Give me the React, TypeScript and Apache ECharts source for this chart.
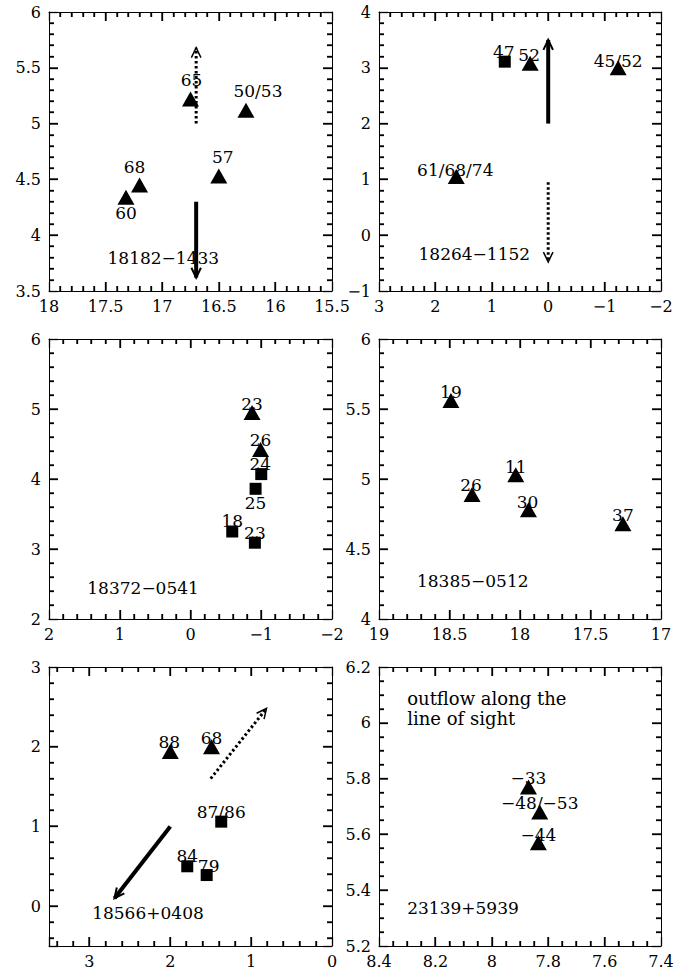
import React, { useEffect, useRef } from "react";
import * as echarts from "echarts";

// ---------------- Panel 1: 18182-1433 ----------------
const p1Name = "18182\u22121433";
const p1NamePos = [16.99, 3.8];
const p1XAxis = [15.5, 18, 0.5];
const p1YAxis = [3.5, 6, 0.5];
const p1Triangles = [[17.32, 4.34], [17.2, 4.45], [16.75, 5.22], [16.26, 5.12], [16.5, 4.53]];
const p1TriangleLabels = ["60", "68", "65", "50/53", "57"];
const p1Squares: number[][] = [];
const p1SquareLabels: string[] = [];
const p1SolidArrows = [[16.7, 4.3, 16.7, 3.62]];
const p1DottedArrows = [[16.7, 5.0, 16.7, 5.68]];

// ---------------- Panel 2: 18264-1152 ----------------
const p2Name = "18264\u22121152";
const p2NamePos = [1.31, -0.33];
const p2XAxis = [-2, 3, 1];
const p2YAxis = [-1, 4, 1];
const p2Triangles = [[0.32, 3.08], [-1.24, 3.0], [1.63, 1.05]];
const p2TriangleLabels = ["52", "45/52", "61/68/74"];
const p2Squares = [[0.77, 3.11]];
const p2SquareLabels = ["47"];
const p2SolidArrows = [[0, 2.0, 0, 3.5]];
const p2DottedArrows = [[0, 0.95, 0, -0.48]];

// ---------------- Panel 3: 18372-0541 ----------------
const p3Name = "18372\u22120541";
const p3NamePos = [0.67, 2.44];
const p3XAxis = [-2, 2, 1];
const p3YAxis = [2, 6, 1];
const p3Triangles = [[-0.87, 4.95], [-0.99, 4.42]];
const p3TriangleLabels = ["23", "26"];
const p3Squares = [[-1.0, 4.07], [-0.92, 3.86], [-0.59, 3.25], [-0.91, 3.09]];
const p3SquareLabels = ["24", "25", "18", "23"];
const p3SolidArrows: number[][] = [];
const p3DottedArrows: number[][] = [];

// ---------------- Panel 4: 18385-0512 ----------------
const p4Name = "18385\u22120512";
const p4NamePos = [18.335, 4.27];
const p4XAxis = [17, 19, 0.5];
const p4YAxis = [4, 6, 0.5];
const p4Triangles = [[18.49, 5.56], [18.34, 4.89], [18.03, 5.03], [17.94, 4.78], [17.27, 4.68]];
const p4TriangleLabels = ["19", "26", "11", "30", "37"];
const p4Squares: number[][] = [];
const p4SquareLabels: string[] = [];
const p4SolidArrows: number[][] = [];
const p4DottedArrows: number[][] = [];

// ---------------- Panel 5: 18566+0408 ----------------
const p5Name = "18566+0408";
const p5NamePos = [2.276, -0.084];
const p5XAxis = [0, 3.5, 1];
const p5YAxis = [-0.5, 3, 1];
const p5Triangles = [[2.0, 1.94], [1.49, 2.0]];
const p5TriangleLabels = ["88", "68"];
const p5Squares = [[1.37, 1.06], [1.79, 0.5], [1.55, 0.39]];
const p5SquareLabels = ["87/86", "84", "79"];
const p5SolidArrows = [[2.0, 1.0, 2.69, 0.1]];
const p5DottedArrows = [[1.5, 1.6, 0.81, 2.48]];

// ---------------- Panel 6: 23139+5939 ----------------
const p6Name = "23139+5939";
const p6NamePos = [8.3, 5.337];
const p6Note = "outflow along the\nline of sight";
const p6NotePos = [8.3, 6.051];
const p6XAxis = [7.4, 8.4, 0.2];
const p6YAxis = [5.2, 6.2, 0.2];
const p6Triangles = [[7.87, 5.77], [7.83, 5.68], [7.835, 5.57]];
const p6TriangleLabels = ["\u221233", "\u221248/\u221253", "\u221244"];
const p6Squares: number[][] = [];
const p6SquareLabels: string[] = [];
const p6SolidArrows: number[][] = [];
const p6DottedArrows: number[][] = [];

// ---------------- layout & styling (not data) ----------------
const GRIDS = [
  { left: 49, top: 12, width: 283, height: 279 },
  { left: 379, top: 12, width: 282, height: 279 },
  { left: 49, top: 339, width: 283, height: 280 },
  { left: 379, top: 339, width: 282, height: 280 },
  { left: 49, top: 667, width: 283, height: 279 },
  { left: 379, top: 667, width: 282, height: 279 },
];
const MINOR_SPLITS = [[5, 5], [5, 5], [5, 5], [5, 5], [5, 5], [4, 4]];
const TRI_OFFSETS = [
  [[0, 16], [-5, -18], [1, -19], [12, -19], [4, -19]],
  [[-1, -8], [0, -7], [-1, -7]],
  [[0, -9], [0, -10]],
  [[0, -9], [-1, -9], [0, -8], [-1, -8], [0, -9]],
  [[-1, -9], [0, -9]],
  [[0, -9], [0, -9], [0, -8]],
];
const SQ_OFFSETS = [
  [],
  [[-1, -10]],
  [[-1, -10], [0, 14], [0, -11], [0, -10]],
  [],
  [[0, -10], [0, -10], [2, -9]],
  [],
];
const MAJOR_LEN = 9;
const MINOR_LEN = 5;
const TICK_W = 1.3;

const FONT = '"DejaVu Serif", serif';

const PANELS = [
  { name: p1Name, namePos: p1NamePos, x: p1XAxis, y: p1YAxis, tri: p1Triangles, triL: p1TriangleLabels, sq: p1Squares, sqL: p1SquareLabels, solid: p1SolidArrows, dotted: p1DottedArrows },
  { name: p2Name, namePos: p2NamePos, x: p2XAxis, y: p2YAxis, tri: p2Triangles, triL: p2TriangleLabels, sq: p2Squares, sqL: p2SquareLabels, solid: p2SolidArrows, dotted: p2DottedArrows },
  { name: p3Name, namePos: p3NamePos, x: p3XAxis, y: p3YAxis, tri: p3Triangles, triL: p3TriangleLabels, sq: p3Squares, sqL: p3SquareLabels, solid: p3SolidArrows, dotted: p3DottedArrows },
  { name: p4Name, namePos: p4NamePos, x: p4XAxis, y: p4YAxis, tri: p4Triangles, triL: p4TriangleLabels, sq: p4Squares, sqL: p4SquareLabels, solid: p4SolidArrows, dotted: p4DottedArrows },
  { name: p5Name, namePos: p5NamePos, x: p5XAxis, y: p5YAxis, tri: p5Triangles, triL: p5TriangleLabels, sq: p5Squares, sqL: p5SquareLabels, solid: p5SolidArrows, dotted: p5DottedArrows },
  { name: p6Name, namePos: p6NamePos, x: p6XAxis, y: p6YAxis, tri: p6Triangles, triL: p6TriangleLabels, sq: p6Squares, sqL: p6SquareLabels, solid: p6SolidArrows, dotted: p6DottedArrows },
];

function fmt(interval: number) {
  return (v: number) => {
    const k = v / interval;
    if (Math.abs(k - Math.round(k)) > 1e-6) return "";
    const r = Math.round(v * 1000) / 1000;
    return String(r).replace("-", "\u2212");
  };
}

// tick positions along an axis range, each as [value, isMajor (1/0)]
function tickValues(range: number[], minorSplit: number): number[][] {
  const [min, max, interval] = range;
  const step = interval / minorSplit;
  const out: number[][] = [];
  const k0 = Math.ceil(min / step - 1e-6);
  const k1 = Math.floor(max / step + 1e-6);
  for (let k = k0; k <= k1; k++) {
    const v = Math.round(k * step * 1e6) / 1e6;
    if (Math.abs(v - min) < 1e-9 || Math.abs(v - max) < 1e-9) continue;
    const q = v / interval;
    out.push([v, Math.abs(q - Math.round(q)) < 1e-6 ? 1 : 0]);
  }
  return out;
}

function makeAxis(gi: number, range: number[], position: string, labels: boolean, isY: boolean, minorSplit: number) {
  const [min, max, interval] = range;
  const useInterval = Math.abs(min / interval - Math.round(min / interval)) < 1e-6;
  const ls = { color: "#000", width: TICK_W };
  const axis: any = {
    type: "value",
    gridIndex: gi,
    position,
    min,
    max,
    inverse: !isY,
    axisLine: { show: true, onZero: false, lineStyle: { color: "#000", width: 1 } },
    axisTick: { show: true, inside: true, length: MAJOR_LEN, lineStyle: ls },
    minorTick: { show: true, splitNumber: minorSplit, length: MINOR_LEN, lineStyle: ls },
    splitLine: { show: false },
    axisLabel: {
      show: labels,
      color: "#000",
      fontFamily: FONT,
      fontSize: 16,
      margin: isY ? 8 : 7,
      formatter: fmt(interval),
    },
  };
  if (useInterval) axis.interval = interval;
  else axis.splitNumber = 4;
  return axis;
}

function arrowRender(width: number, dash: number[] | null, headW: number) {
  return (params: any, api: any) => {
    const s = api.coord([api.value(0), api.value(1)]);
    const e = api.coord([api.value(2), api.value(3)]);
    const ang = Math.atan2(e[1] - s[1], e[0] - s[0]);
    const hl = 11;
    const ha = Math.PI / 7;
    const p1 = [e[0] - hl * Math.cos(ang - ha), e[1] - hl * Math.sin(ang - ha)];
    const p2 = [e[0] - hl * Math.cos(ang + ha), e[1] - hl * Math.sin(ang + ha)];
    return {
      type: "group",
      children: [
        {
          type: "line",
          shape: { x1: s[0], y1: s[1], x2: e[0], y2: e[1] },
          style: { stroke: "#000", lineWidth: width, lineDash: dash, fill: null },
        },
        {
          type: "polyline",
          shape: { points: [p1, e, p2] },
          style: { stroke: "#000", lineWidth: headW, fill: null },
        },
      ],
    };
  };
}

export default function App() {
  const ref = useRef<HTMLDivElement>(null);
  useEffect(() => {
    if (!ref.current) return;
    const chart = echarts.init(ref.current, null, { renderer: "svg" });
    const xAxes: any[] = [];
    const yAxes: any[] = [];
    const series: any[] = [];
    const axisIdx: number[][] = [];
    PANELS.forEach((p, i) => {
      const [mx, my] = MINOR_SPLITS[i];
      const xb = xAxes.length;
      xAxes.push(makeAxis(i, p.x, "bottom", true, false, mx));
      xAxes.push(makeAxis(i, p.x, "top", false, false, mx));
      const yl = yAxes.length;
      yAxes.push(makeAxis(i, p.y, "left", true, true, my));
      yAxes.push(makeAxis(i, p.y, "right", false, true, my));
      axisIdx.push([xb, yl]);
      const common = { xAxisIndex: xb, yAxisIndex: yl };
      const labelStyle = { show: true, position: "inside", color: "#000", opacity: 1, fontFamily: FONT, fontSize: 17 };
      if (p.solid.length)
        series.push({
          ...common,
          type: "custom",
          renderItem: arrowRender(4, null, 2),
          encode: { x: [0, 2], y: [1, 3] },
          data: p.solid,
          silent: true,
          clip: false,
        });
      if (p.dotted.length)
        series.push({
          ...common,
          type: "custom",
          renderItem: arrowRender(3, [2.5, 2.5], 1.5),
          encode: { x: [0, 2], y: [1, 3] },
          data: p.dotted,
          silent: true,
          clip: false,
        });
      if (p.tri.length)
        series.push({
          ...common,
          type: "scatter",
          symbol: "triangle",
          symbolSize: [17, 15],
          itemStyle: { color: "#000", opacity: 1 },
          data: p.tri.map((v, k) => ({
            value: v,
            label: { ...labelStyle, formatter: p.triL[k], offset: TRI_OFFSETS[i][k] },
          })),
          z: 3,
        });
      if (p.sq.length)
        series.push({
          ...common,
          type: "scatter",
          symbol: "rect",
          symbolSize: 12,
          itemStyle: { color: "#000", opacity: 1 },
          data: p.sq.map((v, k) => ({
            value: v,
            label: { ...labelStyle, formatter: p.sqL[k], offset: SQ_OFFSETS[i][k] },
          })),
          z: 3,
        });
      const leftAligned = i === 5;
      series.push({
        ...common,
        type: "scatter",
        symbolSize: 0,
        itemStyle: { opacity: 1 },
        data: [{ value: p.namePos }],
        label: leftAligned
          ? { show: true, position: "right", distance: 0, formatter: p.name, color: "#000", fontFamily: FONT, fontSize: 17 }
          : { show: true, position: "inside", formatter: p.name, color: "#000", fontFamily: FONT, fontSize: 17 },
        z: 4,
      });
      if (i === 5) {
        series.push({
          ...common,
          type: "scatter",
          symbolSize: 0,
          itemStyle: { opacity: 1 },
          data: [{ value: p6NotePos }],
          label: { show: true, position: "right", distance: 0, formatter: p6Note, color: "#000", fontFamily: FONT, fontSize: 18, lineHeight: 20 },
          z: 4,
        });
      }
    });
    chart.setOption({
      animation: false,
      backgroundColor: "#fff",
      grid: GRIDS.map((g) => ({ ...g, containLabel: false, outerBoundsMode: "none", show: false })),
      xAxis: xAxes,
      yAxis: yAxes,
      series,
    });

    // inward ticks on all four sides, positioned through the axes' own scales
    const tickEls: any[] = [];
    PANELS.forEach((p, i) => {
      const [xb, yl] = axisIdx[i];
      const [mx, my] = MINOR_SPLITS[i];
      const px = (v: number) => Number(chart.convertToPixel({ xAxisIndex: xb } as any, v as any));
      const py = (v: number) => Number(chart.convertToPixel({ yAxisIndex: yl } as any, v as any));
      const xa = px(p.x[0]);
      const xe = px(p.x[1]);
      const ya = py(p.y[0]);
      const ye = py(p.y[1]);
      if (![xa, xe, ya, ye].every((n) => isFinite(n))) return;
      const left = Math.min(xa, xe);
      const right = Math.max(xa, xe);
      const top = Math.min(ya, ye);
      const bottom = Math.max(ya, ye);
      const st = () => ({ stroke: "#000", lineWidth: TICK_W });
      tickValues(p.x, mx).forEach(([v, m]) => {
        const x = Math.round(px(v));
        const L = m ? MAJOR_LEN : MINOR_LEN;
        tickEls.push({ type: "line", z: 100, silent: true, shape: { x1: x, y1: bottom, x2: x, y2: bottom - L }, style: st() });
        tickEls.push({ type: "line", z: 100, silent: true, shape: { x1: x, y1: top, x2: x, y2: top + L }, style: st() });
      });
      tickValues(p.y, my).forEach(([v, m]) => {
        const y = Math.round(py(v));
        const L = m ? MAJOR_LEN : MINOR_LEN;
        tickEls.push({ type: "line", z: 100, silent: true, shape: { x1: left, y1: y, x2: left + L, y2: y }, style: st() });
        tickEls.push({ type: "line", z: 100, silent: true, shape: { x1: right, y1: y, x2: right - L, y2: y }, style: st() });
      });
    });
    if (tickEls.length) chart.setOption({ graphic: tickEls });
    return () => chart.dispose();
  }, []);
  return (
    <div
      ref={ref}
      style={{ position: "absolute", left: 0, top: 0, width: 691, height: 978, background: "#fff" }}
    />
  );
}
